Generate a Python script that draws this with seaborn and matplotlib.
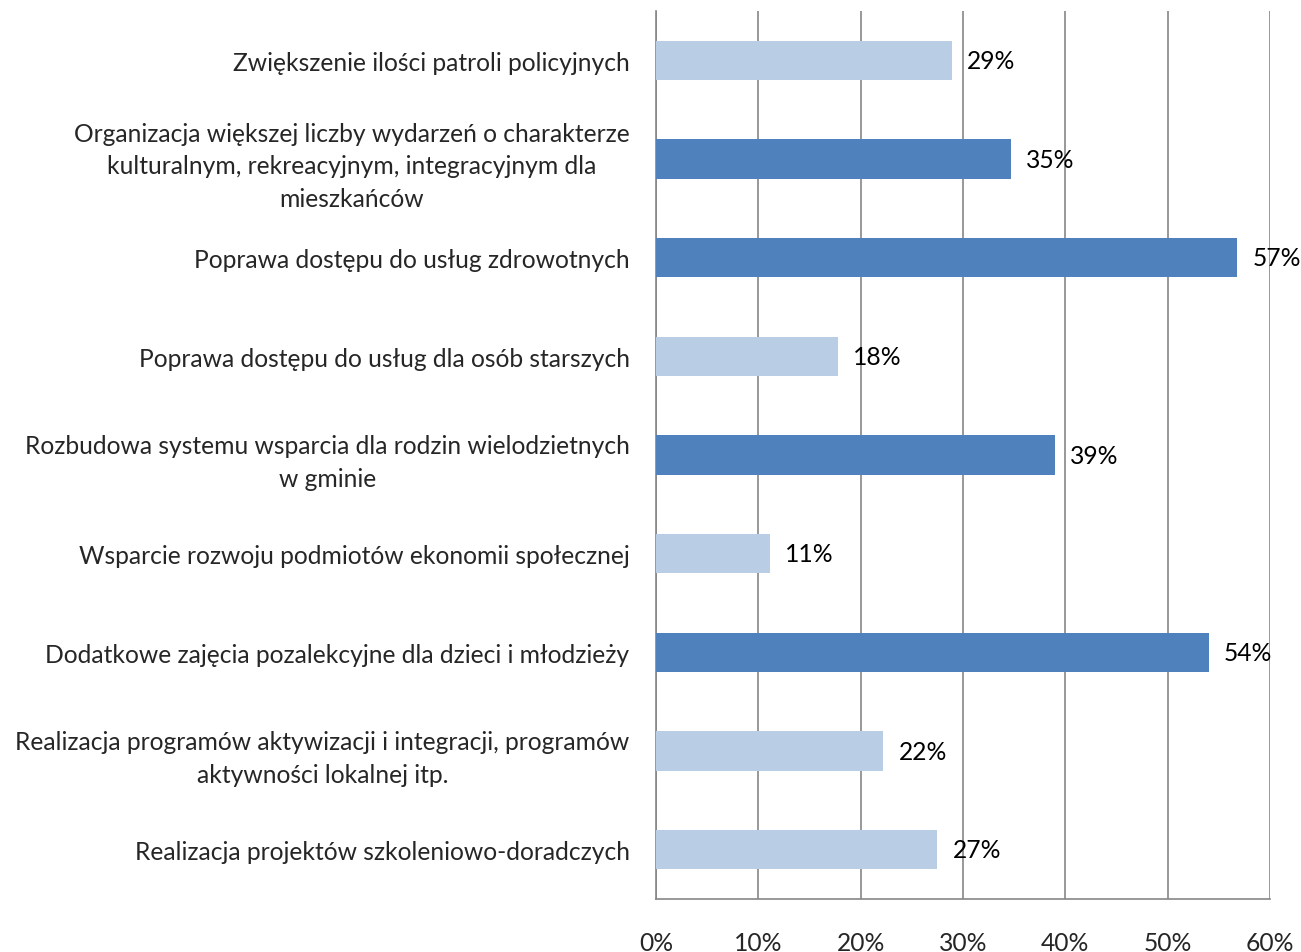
import matplotlib
matplotlib.use("Agg")
import matplotlib.pyplot as plt
import seaborn as sns
import pandas as pd
import numpy as np

# ── Dane ─────────────────────────────────────────────────────────────────
categories = [
    "Zwiększenie ilości patroli policyjnych",
    "Organizacja większej liczby wydarzeń o charakterze\nkulturalnym, rekreacyjnym, integracyjnym dla\nmieszkańców",
    "Poprawa dostępu do usług zdrowotnych",
    "Poprawa dostępu do usług dla osób starszych",
    "Rozbudowa systemu wsparcia dla rodzin wielodzietnych\nw gminie",
    "Wsparcie rozwoju podmiotów ekonomii społecznej",
    "Dodatkowe zajęcia pozalekcyjne dla dzieci i młodzieży",
    "Realizacja programów aktywizacji i integracji, programów\naktywności lokalnej itp.",
    "Realizacja projektów szkoleniowo-doradczych",
]
values = [28.9, 34.7, 56.8, 17.8, 39.0, 11.1, 54.0, 22.2, 27.5]
value_labels = ["29%", "35%", "57%", "18%", "39%", "11%", "54%", "22%", "27%"]
highlight = [False, True, True, False, True, False, True, False, False]
xticks = [0, 10, 20, 30, 40, 50, 60]

LIGHT = "#B9CDE5"
DARK = "#4F81BD"
GRID = "#868686"
FS = 17.7

df = pd.DataFrame({"kategoria": categories, "wartosc": values})
palette = [DARK if h else LIGHT for h in highlight]

sns.set_style("white")
plt.rcParams["font.family"] = ["Lato", "DejaVu Sans"]

fig = plt.figure(figsize=(13.01, 9.53), dpi=100)
ax = fig.add_axes([656 / 1301, 1 - 900 / 953, (1270 - 656) / 1301, (900 - 12) / 953])

sns.barplot(data=df, x="wartosc", y="kategoria", hue="kategoria",
            palette=palette, legend=False, width=0.4, saturation=1,
            edgecolor="none", linewidth=0, ax=ax, zorder=3)

down = matplotlib.transforms.ScaledTranslation(0, -2 / 72, fig.dpi_scale_trans)
for cont, lbl in zip(ax.containers, value_labels):
    for txt in ax.bar_label(cont, labels=[lbl], padding=11, fontsize=FS, color="black"):
        txt.set_transform(txt.get_transform() + down)

ax.set_xlim(0, 60)
ax.set_ylim(len(categories) - 0.5, -0.5)
ax.set_xticks(xticks)
ax.set_xticklabels([f"{t}%" for t in xticks], fontsize=FS)
ax.set_xlabel("")
ax.set_ylabel("")

ax.set_yticks(range(len(categories)))
ax.set_yticklabels(categories, fontsize=FS, ha="center", multialignment="center",
                   linespacing=1.52)
ax.set_yticks(np.arange(-0.5, len(categories)), minor=True)
ax.tick_params(axis="y", which="major", length=0, pad=0)
ax.tick_params(axis="y", which="minor", length=6, width=1.2, color=GRID, direction="out")
ax.tick_params(axis="x", which="major", length=6, width=1.2, color=GRID,
               direction="out", pad=17)

# wyśrodkowanie etykiet osi Y jako bloku wyrównanego do prawej
fig.canvas.draw()
renderer = fig.canvas.get_renderer()
for t in ax.get_yticklabels():
    bb = t.get_window_extent(renderer)
    w = bb.width / fig.dpi * 72
    t.set_transform(t.get_transform() + matplotlib.transforms.ScaledTranslation(
        -(w / 2 + 19) / 72, 0, fig.dpi_scale_trans))

ax.grid(axis="x", color=GRID, linewidth=1.2, zorder=0)
ax.set_axisbelow(True)
for side in ["top", "right"]:
    ax.spines[side].set_visible(False)
for side in ["left", "bottom"]:
    ax.spines[side].set_color(GRID)
    ax.spines[side].set_linewidth(1.2)

fig.savefig("out.png", dpi=100)
plt.close(fig)
